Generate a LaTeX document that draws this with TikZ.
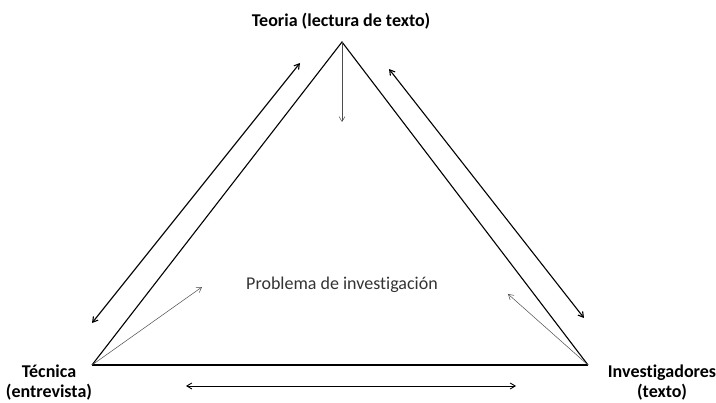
\documentclass[tikz,border=0pt]{standalone}
\usepackage{fontspec}
\setmainfont{Carlito}[Ligatures=NoCommon]
\usetikzlibrary{arrows.meta}
\begin{document}
\begin{tikzpicture}[x=1pt,y=-1pt,
  side/.style={line width=1.1pt,black},
  base/.style={line width=2.6pt,black},
  outer/.style={line width=1.1pt,{Straight Barb[length=5pt,width=6pt]}-{Straight Barb[length=5pt,width=6pt]}},
  thin/.style={line width=0.5pt,black!70,-{Straight Barb[length=5pt,width=6pt]}},
  lab/.style={font=\bfseries\fontsize{18}{20}\selectfont,align=center,inner sep=0pt},
  ctext/.style={font=\fontsize{18}{20}\selectfont,text=black!80,inner sep=0pt}]
\useasboundingbox (0,0) rectangle (716,403);
\coordinate (T) at (342,42);
\coordinate (L) at (92,365);
\coordinate (R) at (588,365);
\draw[side] (L) -- (T) -- (R);
\draw[base] (L) -- (R);
% outer arrows
\coordinate (la) at (92,323);
\coordinate (lb) at (300,63);
\coordinate (ra) at (389,69);
\coordinate (rb) at (584,318);
\coordinate (ba) at (186,386);
\coordinate (bb) at (516,386);
\draw[outer] (la) -- (lb);
\draw[outer] (ra) -- (rb);
\draw[outer,line width=0.9pt] (ba) -- (bb);
% inner thin arrows
\coordinate (tv) at (342,122);
\coordinate (lt) at (202,287);
\coordinate (rt) at (508,294);
\draw[thin] (T) -- (tv);
\draw[thin] (L) -- (lt);
\draw[thin] (R) -- (rt);
% labels
\node[lab] (teoria) at (341,21) {Teoria (lectura de texto)};
\node[lab] (tecnica) at (49,383) {Técnica\\(entrevista)};
\node[lab] (invest) at (662,383) {Investigadores\\(texto)};
\node[ctext] (prob) at (342,285) {Problema de investigación};
\end{tikzpicture}
\end{document}
